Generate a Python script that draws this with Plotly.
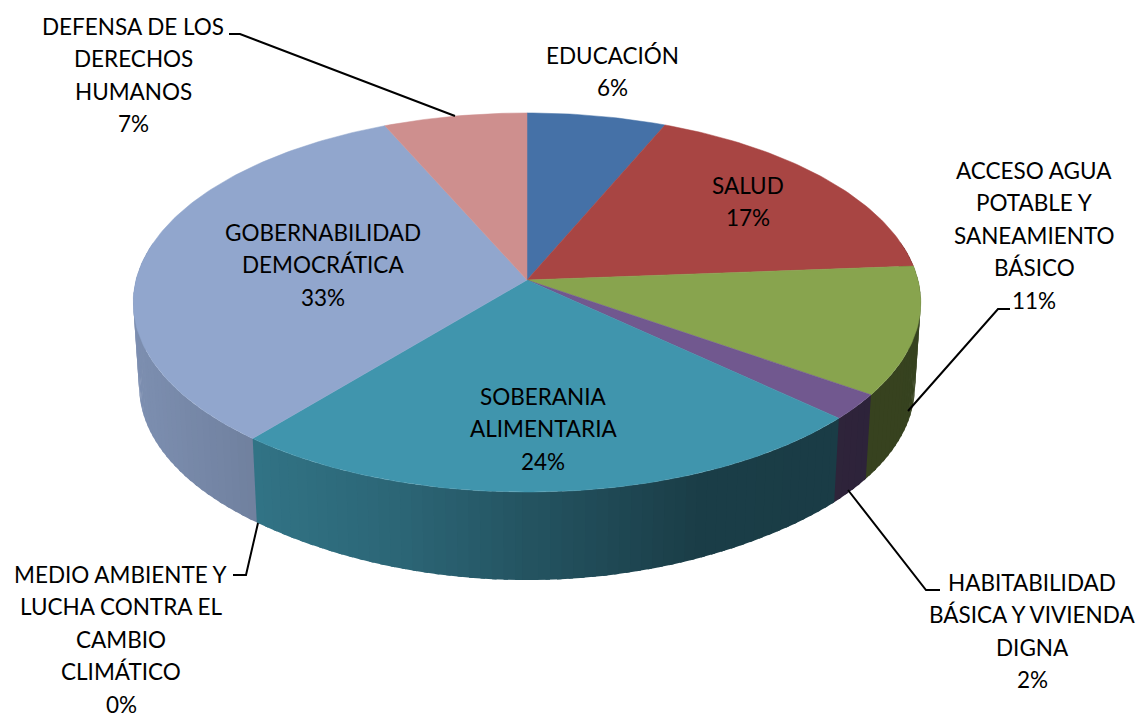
import numpy as np
import plotly.graph_objects as go

# ---- data ----
categories = ["EDUCACIÓN", "SALUD", "ACCESO AGUA POTABLE Y SANEAMIENTO BÁSICO",
              "HABITABILIDAD BÁSICA Y VIVIENDA DIGNA", "SOBERANIA ALIMENTARIA",
              "MEDIO AMBIENTE Y LUCHA CONTRA EL CAMBIO CLIMÁTICO",
              "GOBERNABILIDAD DEMOCRÁTICA", "DEFENSA DE LOS DERECHOS HUMANOS"]
values = [6.4, 17.4, 10.9, 2.2, 24.1, 0.0, 32.4, 6.6]
percent_labels = ["6%", "17%", "11%", "2%", "24%", "0%", "33%", "7%"]
label_lines = [
    ["EDUCACIÓN"],
    ["SALUD"],
    ["ACCESO AGUA", "POTABLE Y", "SANEAMIENTO", "BÁSICO"],
    ["HABITABILIDAD", "BÁSICA Y VIVIENDA", "DIGNA"],
    ["SOBERANIA", "ALIMENTARIA"],
    ["MEDIO AMBIENTE Y", "LUCHA CONTRA EL", "CAMBIO", "CLIMÁTICO"],
    ["GOBERNABILIDAD", "DEMOCRÁTICA"],
    ["DEFENSA DE LOS", "DERECHOS", "HUMANOS"],
]
colors = [(69, 113, 167), (168, 69, 67), (136, 164, 78), (113, 88, 143),
          (64, 149, 173), (219, 132, 61), (145, 166, 205), (206, 143, 142)]

# ---- layout of the drawing (pixel-like axes) ----
W, H = 1142, 713
CX, CY = 527, 280
RX, RY, K = 391.0, 186.9, 0.1187
label_pos = [(612, 55), (748, 185), (1034, 170), (1032, 582),
             (543, 396), (121, 574), (323, 232), (133, 26)]
LINE_H = 32.5
FONT = dict(family="Lato, Carlito, 'Open Sans', sans-serif", size=22.5, color="#000000")
leaders = [
    ([229, 240, 455], [34, 34, 116]),
    ([1010, 998, 908], [309, 309, 411]),
    ([848, 926, 940], [490, 590, 590]),
    ([258, 246, 233], [523, 575, 575]),
]
SHADE_X = [133, 258, 400, 530, 700, 920]
SHADE_F = [0.86, 0.77, 0.68, 0.56, 0.41, 0.40]


def top(theta):
    u, v = np.sin(theta), np.cos(theta)
    w = 1 + K * v
    return CX + RX * u / w, CY - RY * v / w


def bottom(theta):
    x, y = top(theta)
    v = np.cos(theta)
    t = np.clip((-v - 0.77) / 0.23, 0, 1)
    return CX + (x - CX) * 0.985, y + 84 + 4 * t ** 2


fracs = np.array(values) / sum(values)
edges = np.concatenate([[0], np.cumsum(fracs)]) * 2 * np.pi

fig = go.Figure()


def poly(xs, ys, rgb, lw=0.0):
    c = "rgb(%d,%d,%d)" % tuple(int(round(a)) for a in rgb)
    fig.add_trace(go.Scatter(x=list(xs), y=list(ys), mode="lines", fill="toself",
                             fillcolor=c, line=dict(color=c, width=lw),
                             hoverinfo="skip", showlegend=False))


# side wall: thin bands, back to front, each running a little under the next one
bands = []
for i, rgb in enumerate(colors):
    a0, a1 = edges[i], edges[i + 1]
    if a1 <= a0:
        continue
    n = max(1, int(np.degrees(a1 - a0) / 1.5))
    th = np.linspace(a0, a1, n + 1)
    for t0, t1 in zip(th[:-1], th[1:]):
        if np.cos((t0 + t1) / 2) < 0.2:
            bands.append((t0, t1, rgb))
bands.sort(key=lambda b: -np.cos((b[0] + b[1]) / 2))
pad = np.radians(0.6)
for t0, t1, rgb in bands:
    mid = (t0 + t1) / 2
    f = np.interp(top(mid)[0], SHADE_X, SHADE_F)
    if mid < np.pi:
        t1 = t1 + pad
    else:
        t0 = t0 - pad
    x0, y0 = top(t0)
    x1, y1 = top(t1)
    x2, y2 = bottom(t1)
    x3, y3 = bottom(t0)
    poly([x0, x1, x2, x3, x0], [y0, y1, y2, y3, y0], [c * f for c in rgb])

# top faces
for i, rgb in enumerate(colors):
    a0, a1 = edges[i], edges[i + 1]
    if a1 <= a0:
        continue
    th = np.linspace(a0, a1, max(2, int(np.degrees(a1 - a0))) + 1)
    xs, ys = top(th)
    poly(np.r_[CX, xs, CX], np.r_[CY, ys, CY], rgb, lw=0.5)

# leader lines
for lx, ly in leaders:
    fig.add_trace(go.Scatter(x=lx, y=ly, mode="lines", line=dict(color="#000000", width=2),
                             hoverinfo="skip", showlegend=False))

# labels, one annotation per line for exact spacing
for lines, pct, (lx, ly) in zip(label_lines, percent_labels, label_pos):
    for j, txt in enumerate(lines + [pct]):
        fig.add_annotation(x=lx, y=ly + j * LINE_H, text=txt, showarrow=False,
                           xanchor="center", yanchor="middle", font=FONT)

fig.update_layout(width=W, height=H, margin=dict(l=0, r=0, t=0, b=0),
                  paper_bgcolor="white", plot_bgcolor="white", showlegend=False,
                  xaxis=dict(range=[0, W], visible=False, fixedrange=True),
                  yaxis=dict(range=[H, 0], visible=False, fixedrange=True))
fig.write_html("out.html", config={"displayModeBar": False},
               post_script="document.body.style.margin='0';document.body.style.overflow='hidden';")
